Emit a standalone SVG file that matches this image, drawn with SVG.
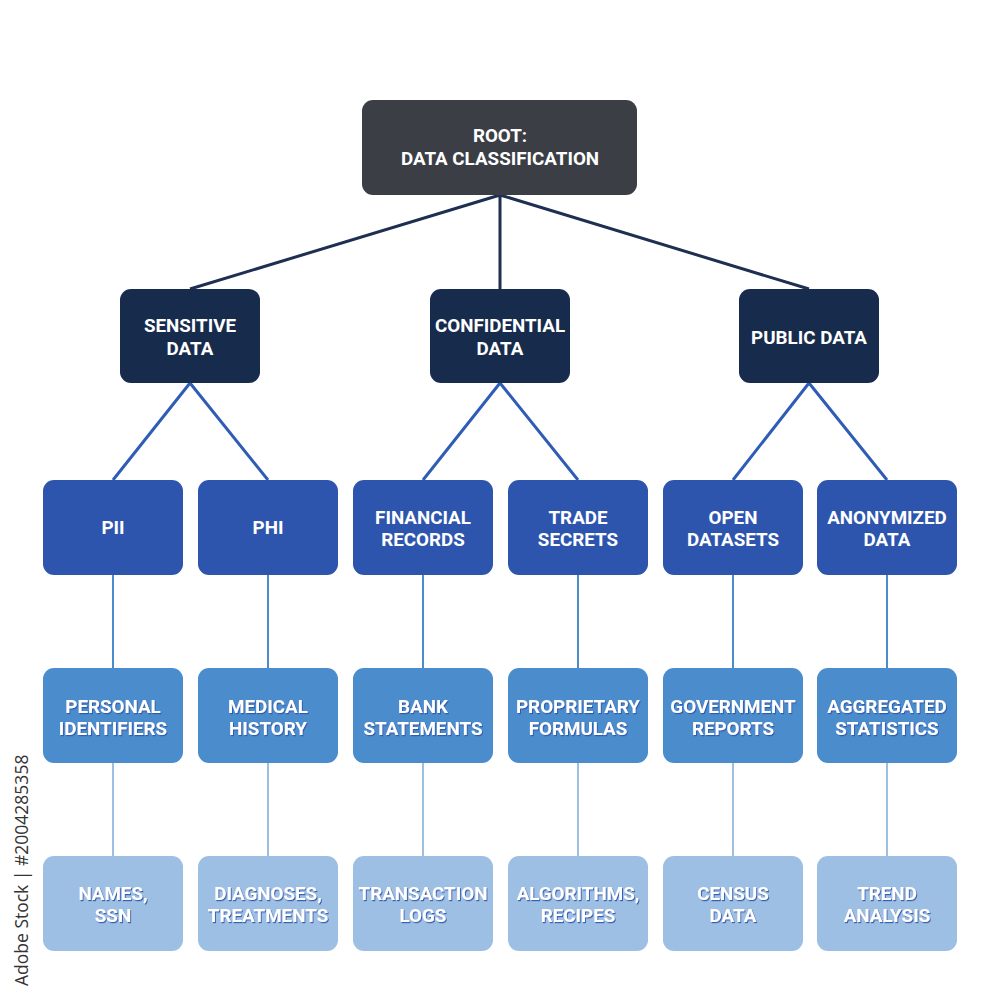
<svg xmlns="http://www.w3.org/2000/svg" width="1000" height="1000" viewBox="0 0 1000 1000">
<defs>
<style>
.t{font-family:Roboto,"Liberation Sans",sans-serif;font-weight:700;font-size:18.8px;fill:#ffffff;text-anchor:middle}
.sh{filter:url(#ts)}
.root{fill:#3b3e45}
.l1{fill:#172b4d}
.l2{fill:#2d55ad}
.l3{fill:#4a8ccc}
.l4{fill:#9ebfe4}
.c0{stroke:#1e2f52;stroke-width:3;fill:none}
.c1{stroke:#2f5db5;stroke-width:3;fill:none}
.c2{stroke:#4a8ccc;stroke-width:2;fill:none}
.c3{stroke:#9ebfe4;stroke-width:2;fill:none}
.wm{font-family:"Open Sans","Liberation Sans",sans-serif;font-size:17.5px;fill:#333333}
</style>
<filter id="ts" x="-10%" y="-30%" width="120%" height="160%">
<feDropShadow dx="1" dy="1.2" stdDeviation="0.3" flood-color="#2d55ad" flood-opacity="0.9"/>
</filter>
</defs>
<rect width="1000" height="1000" fill="#ffffff"/>
<g id="connectors">
<path class="c0" d="M500 195 L190 289 M500 195 L500 289 M500 195 L809 289"/>
<path class="c1" d="M190 383 L113 480 M190 383 L268 480 M500 383 L423 480 M500 383 L578 480 M809 383 L733 480 M809 383 L887 480"/>
<path class="c2" d="M113 575 V668 M268 575 V668 M423 575 V668 M578 575 V668 M733 575 V668 M887 575 V668"/>
<path class="c3" d="M113 763 V856 M268 763 V856 M423 763 V856 M578 763 V856 M733 763 V856 M887 763 V856"/>
</g>
<g id="root"><rect class="root" x="362" y="100" width="275" height="95" rx="11"/><text class="t" x="500" y="142">ROOT:</text><text class="t" x="500" y="165">DATA CLASSIFICATION</text></g>
<g id="sensitive"><rect class="l1" x="120" y="289" width="140" height="94" rx="11"/><text class="t" x="190" y="332">SENSITIVE</text><text class="t" x="190" y="355">DATA</text></g>
<g id="confidential"><rect class="l1" x="430" y="289" width="140" height="94" rx="11"/><text class="t" x="500" y="332">CONFIDENTIAL</text><text class="t" x="500" y="355">DATA</text></g>
<g id="public"><rect class="l1" x="739" y="289" width="140" height="94" rx="11"/><text class="t" x="809" y="344">PUBLIC DATA</text></g>
<g id="pii"><rect class="l2" x="43" y="480" width="140" height="95" rx="11"/><text class="t" x="113" y="534">PII</text></g>
<g id="phi"><rect class="l2" x="198" y="480" width="140" height="95" rx="11"/><text class="t" x="268" y="534">PHI</text></g>
<g id="financial"><rect class="l2" x="353" y="480" width="140" height="95" rx="11"/><text class="t" x="423" y="524">FINANCIAL</text><text class="t" x="423" y="546">RECORDS</text></g>
<g id="trade"><rect class="l2" x="508" y="480" width="140" height="95" rx="11"/><text class="t" x="578" y="524">TRADE</text><text class="t" x="578" y="546">SECRETS</text></g>
<g id="open"><rect class="l2" x="663" y="480" width="140" height="95" rx="11"/><text class="t" x="733" y="524">OPEN</text><text class="t" x="733" y="546">DATASETS</text></g>
<g id="anonymized"><rect class="l2" x="817" y="480" width="140" height="95" rx="11"/><text class="t" x="887" y="524">ANONYMIZED</text><text class="t" x="887" y="546">DATA</text></g>
<g id="personal"><rect class="l3" x="43" y="668" width="140" height="95" rx="11"/><text class="t sh" x="113" y="713">PERSONAL</text><text class="t sh" x="113" y="735">IDENTIFIERS</text></g>
<g id="medical"><rect class="l3" x="198" y="668" width="140" height="95" rx="11"/><text class="t sh" x="268" y="713">MEDICAL</text><text class="t sh" x="268" y="735">HISTORY</text></g>
<g id="bank"><rect class="l3" x="353" y="668" width="140" height="95" rx="11"/><text class="t sh" x="423" y="713">BANK</text><text class="t sh" x="423" y="735">STATEMENTS</text></g>
<g id="proprietary"><rect class="l3" x="508" y="668" width="140" height="95" rx="11"/><text class="t sh" x="578" y="713">PROPRIETARY</text><text class="t sh" x="578" y="735">FORMULAS</text></g>
<g id="government"><rect class="l3" x="663" y="668" width="140" height="95" rx="11"/><text class="t sh" x="733" y="713">GOVERNMENT</text><text class="t sh" x="733" y="735">REPORTS</text></g>
<g id="aggregated"><rect class="l3" x="817" y="668" width="140" height="95" rx="11"/><text class="t sh" x="887" y="713">AGGREGATED</text><text class="t sh" x="887" y="735">STATISTICS</text></g>
<g id="names"><rect class="l4" x="43" y="856" width="140" height="95" rx="11"/><text class="t sh" x="113" y="900">NAMES,</text><text class="t sh" x="113" y="922">SSN</text></g>
<g id="diagnoses"><rect class="l4" x="198" y="856" width="140" height="95" rx="11"/><text class="t sh" x="268" y="900">DIAGNOSES,</text><text class="t sh" x="268" y="922">TREATMENTS</text></g>
<g id="transaction"><rect class="l4" x="353" y="856" width="140" height="95" rx="11"/><text class="t sh" x="423" y="900">TRANSACTION</text><text class="t sh" x="423" y="922">LOGS</text></g>
<g id="algorithms"><rect class="l4" x="508" y="856" width="140" height="95" rx="11"/><text class="t sh" x="578" y="900">ALGORITHMS,</text><text class="t sh" x="578" y="922">RECIPES</text></g>
<g id="census"><rect class="l4" x="663" y="856" width="140" height="95" rx="11"/><text class="t sh" x="733" y="900">CENSUS</text><text class="t sh" x="733" y="922">DATA</text></g>
<g id="trend"><rect class="l4" x="817" y="856" width="140" height="95" rx="11"/><text class="t sh" x="887" y="900">TREND</text><text class="t sh" x="887" y="922">ANALYSIS</text></g>
<text class="wm" transform="translate(28 986) rotate(-90)">Adobe Stock | #2004285358</text>
</svg>
